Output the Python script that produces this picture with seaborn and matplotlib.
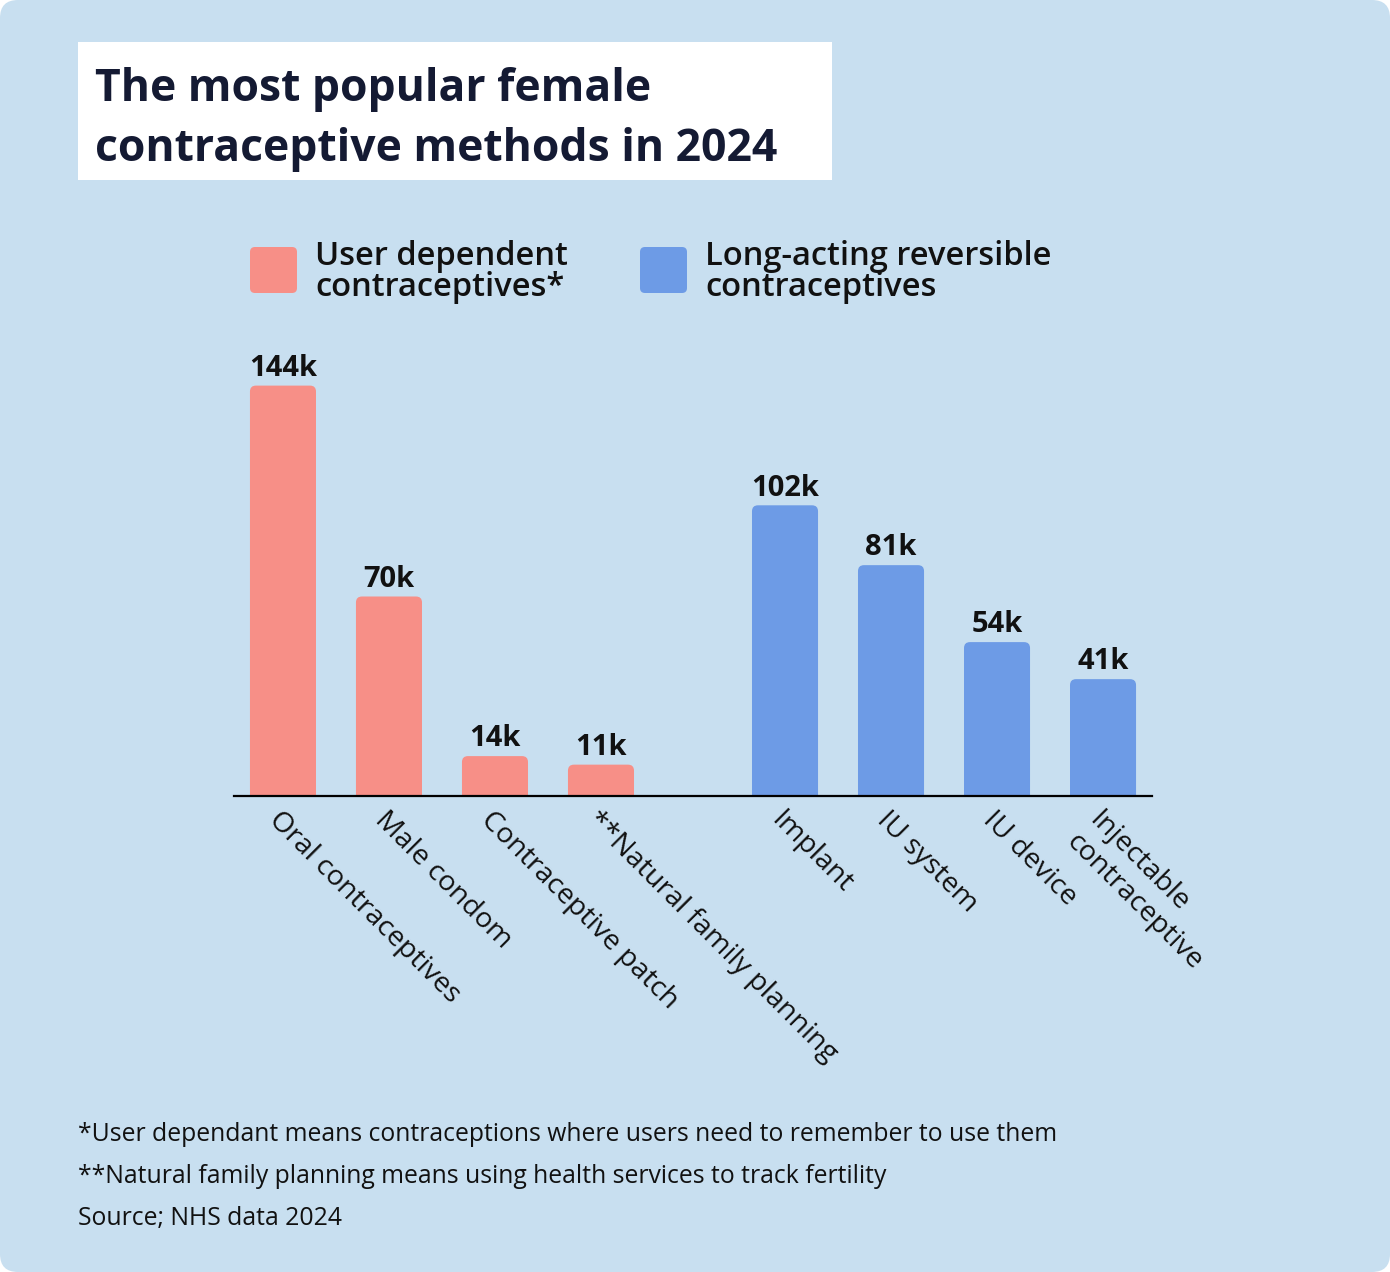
import matplotlib
matplotlib.use("Agg")
import matplotlib.pyplot as plt
from matplotlib.patches import FancyBboxPatch, Rectangle
from matplotlib.transforms import Affine2D
import seaborn as sns
import pandas as pd

# Data
user_methods = ["Oral contraceptives", "Male condom", "Contraceptive patch",
                "**Natural family planning"]
user_values = [144, 70, 14, 11]
larc_methods = ["Implant", "IU system", "IU device", "Injectable\ncontraceptive"]
larc_values = [102, 81, 54, 41]
group_names = ["User dependent\ncontraceptives*", "Long-acting reversible\ncontraceptives"]
title_lines = ["The most popular female", "contraceptive methods in 2024"]
footnotes = [
    "*User dependant means contraceptions where users need to remember to use them",
    "**Natural family planning means using health services to track fertility",
    "Source; NHS data 2024",
]

# Style
PINK = "#f78f87"
BLUE = "#6d9be6"
BG = "#c8dff0"
NAVY = "#141a33"
INK = "#111111"
W, H = 1390, 1272
GROUP_GAP = 0.736  # extra space between the two groups (in bar slots)

rows = []
for i, (m, v) in enumerate(zip(user_methods, user_values)):
    rows.append({"method": m, "value": v, "group": group_names[0], "pos": i})
for i, (m, v) in enumerate(zip(larc_methods, larc_values)):
    rows.append({"method": m, "value": v, "group": group_names[1],
                 "pos": len(user_methods) + GROUP_GAP + i})
df = pd.DataFrame(rows)

sns.set_theme(style="white")
plt.rcParams["font.family"] = ["Open Sans", "DejaVu Sans"]

fig = plt.figure(figsize=(W / 100, H / 100), dpi=100)
fig.patch.set_facecolor("white")
# pixel coords, y going down
px = Affine2D().scale(1 / W, -1 / H).translate(0, 1) + fig.transFigure

fig.patches.append(FancyBboxPatch((0, 0), W, H, boxstyle="round,pad=0,rounding_size=18",
                                  transform=px, facecolor=BG, edgecolor="none",
                                  zorder=-5))

ax = fig.add_axes([234 / W, 1 - 796 / H, (1152 - 234) / W, (796 - 340) / H])
ax.patch.set_alpha(0)

sns.barplot(data=df, x="pos", y="value", hue="group", palette=[PINK, BLUE],
            native_scale=True, dodge=False, width=0.623, saturation=1,
            errorbar=None, legend=False, ax=ax)

ax.set_xlim(-0.462, 8.198)
ax.set_ylim(0, 160)
ax.set_xlabel("")
ax.set_ylabel("")
ax.set_yticks([])
ax.set_xticks(df["pos"])
ax.set_xticklabels(df["method"], rotation=-45, ha="left", va="top",
                   rotation_mode="anchor", fontsize=20.5, color=INK)
ax.tick_params(axis="x", length=0, pad=7)
for s in ["top", "right", "left"]:
    ax.spines[s].set_visible(False)
ax.spines["bottom"].set_color("black")
ax.spines["bottom"].set_linewidth(1.6)
ax.grid(False)

for cont in ax.containers:
    ax.bar_label(cont, fmt="{:.0f}k", padding=2, fontsize=21,
                 fontweight="bold", color=INK)

# round the top corners of the bars
pos = ax.get_position()
xl, yl = ax.get_xlim(), ax.get_ylim()
px_x = pos.width * W / (xl[1] - xl[0])
px_y = pos.height * H / (yl[1] - yl[0])
rx, ry = 6 / px_x, 6 / px_y
for p in list(ax.patches):
    x, w, h = p.get_x(), p.get_width(), p.get_height()
    rb = FancyBboxPatch((x, -ry), w, h + ry,
                        boxstyle=f"round,pad=0,rounding_size={rx}",
                        mutation_aspect=ry / rx, facecolor=p.get_facecolor(),
                        edgecolor="none")
    ax.add_patch(rb)
    p.remove()

# title box
fig.patches.append(Rectangle((78, 42), 754, 138, transform=px,
                             facecolor="white", edgecolor="none"))
fig.text(95, 101, title_lines[0], transform=px, fontsize=32, fontweight="bold",
         color=NAVY, va="baseline")
fig.text(95, 161, title_lines[1], transform=px, fontsize=32, fontweight="bold",
         color=NAVY, va="baseline")

# legend
for (sx, tx), name, col in zip([(250, 315), (640, 705)], group_names, [PINK, BLUE]):
    fig.patches.append(FancyBboxPatch((sx, 247), 47, 46,
                                      boxstyle="round,pad=0,rounding_size=5",
                                      transform=px, facecolor=col, edgecolor="none"))
    for k, line in enumerate(name.split("\n")):
        fig.text(tx, 265 + 31 * k, line, transform=px, fontsize=23.5,
                 fontweight="semibold", color=INK, va="baseline")

# footnotes
for k, note in enumerate(footnotes):
    fig.text(78, 1141 + 42 * k, note, transform=px, fontsize=17.8,
             color=INK, va="baseline")

fig.savefig("out.png", dpi=100)
